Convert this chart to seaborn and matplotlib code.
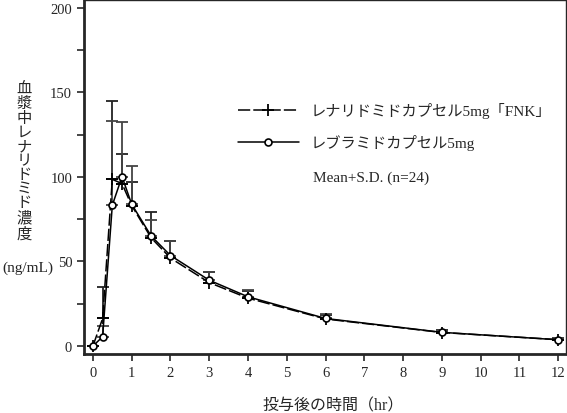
import numpy as np
import pandas as pd
import seaborn as sns
import matplotlib.pyplot as plt

# sampling times (hr)
times = [0, 0.25, 0.5, 0.75, 1, 1.5, 2, 3, 4, 6, 9, 12]

# レナリドミドカプセル5mg「FNK」 mean / SD
fnk_mean = [0, 16.3, 98.5, 96.0, 83.0, 64.0, 52.0, 37.5, 28.3, 16.0, 8.0, 3.8]
fnk_sd = [0, 18.3, 46.5, 17.5, 14.0, 15.0, 9.8, 6.0, 4.5, 2.5, 1.2, 0.9]

# レブラミドカプセル5mg mean / SD
rev_mean = [0, 5.5, 83.2, 100.1, 83.8, 65.1, 53.5, 38.9, 29.1, 16.3, 8.1, 3.7]
rev_sd = [0, 6.5, 49.5, 32.2, 22.8, 9.2, 8.3, 4.9, 4.1, 2.4, 0.9, 0.8]

labels = ["レナリドミドカプセル5mg「FNK」", "レブラミドカプセル5mg"]
note = "Mean+S.D. (n=24)"
ylabel_main = "血漿中レナリドミド濃度"
ylabel_unit = "(ng/mL)"
xlabel = "投与後の時間（hr）"

sns.set_style("ticks")
fonts = ["Liberation Serif", "Noto Sans CJK JP", "DejaVu Sans"]
plt.rcParams["font.family"] = fonts

fnk = pd.DataFrame({"time": times, "conc": fnk_mean})
rev = pd.DataFrame({"time": times, "conc": rev_mean})

fig = plt.figure(figsize=(5.67, 4.14), dpi=100)
ax = fig.add_axes([84 / 567, 59 / 414, 482 / 567, 354 / 414])

# upper S.D. bars only
ax.errorbar(times, fnk_mean, yerr=[np.zeros(len(times)), fnk_sd], fmt="none",
            ecolor="#222222", elinewidth=1.3, capsize=4.5, capthick=1.3, zorder=2)
ax.errorbar(times, rev_mean, yerr=[np.zeros(len(times)), rev_sd], fmt="none",
            ecolor="#444444", elinewidth=1.3, capsize=4.5, capthick=1.3, zorder=2)

sns.lineplot(data=fnk, x="time", y="conc", ax=ax, color="black", linewidth=1.1,
             linestyle=(0, (8, 2)), marker="+", markersize=8, markeredgewidth=1.3,
             markeredgecolor="black", label=labels[0], zorder=3)
sns.lineplot(data=rev, x="time", y="conc", ax=ax, color="black", linewidth=1.1,
             marker="o", markersize=5, markerfacecolor="white",
             markeredgecolor="black", markeredgewidth=1.2,
             label=labels[1], zorder=4)

ax.set_xlim(-0.23, 12.2)
ax.set_ylim(-4.7, 204.5)
ax.set_xticks(range(0, 13))
ax.set_yticks(range(0, 201, 25))
ax.set_yticklabels([str(v) if v % 50 == 0 else "" for v in range(0, 201, 25)])
ax.tick_params(axis="both", direction="out", length=5, width=1.2, labelsize=10.5)
ax.set_xlabel("")
ax.set_ylabel("")
for side in ["left", "bottom"]:
    ax.spines[side].set_linewidth(2)
for side in ["top", "right"]:
    ax.spines[side].set_linewidth(1)

leg = ax.legend(loc="upper left", bbox_to_anchor=(0.29, 0.75), frameon=False,
                handlelength=4.0, handletextpad=0.8, labelspacing=1.05,
                prop={"family": fonts, "size": 11})

ax.text((313 - 84) / 482, (355 - 178) / 354, note, transform=ax.transAxes,
        ha="left", va="center", fontsize=11)

fig.text(24 / 567, 1 - 162 / 414, "\n".join(ylabel_main), ha="center", va="center",
         fontsize=11, linespacing=1.1)
fig.text(28 / 567, 1 - 268 / 414, ylabel_unit, ha="center", va="center", fontsize=11)
fig.text(333 / 567, 1 - 406 / 414, xlabel, ha="center", va="center", fontsize=11.5)

fig.savefig("out.png", dpi=100)
